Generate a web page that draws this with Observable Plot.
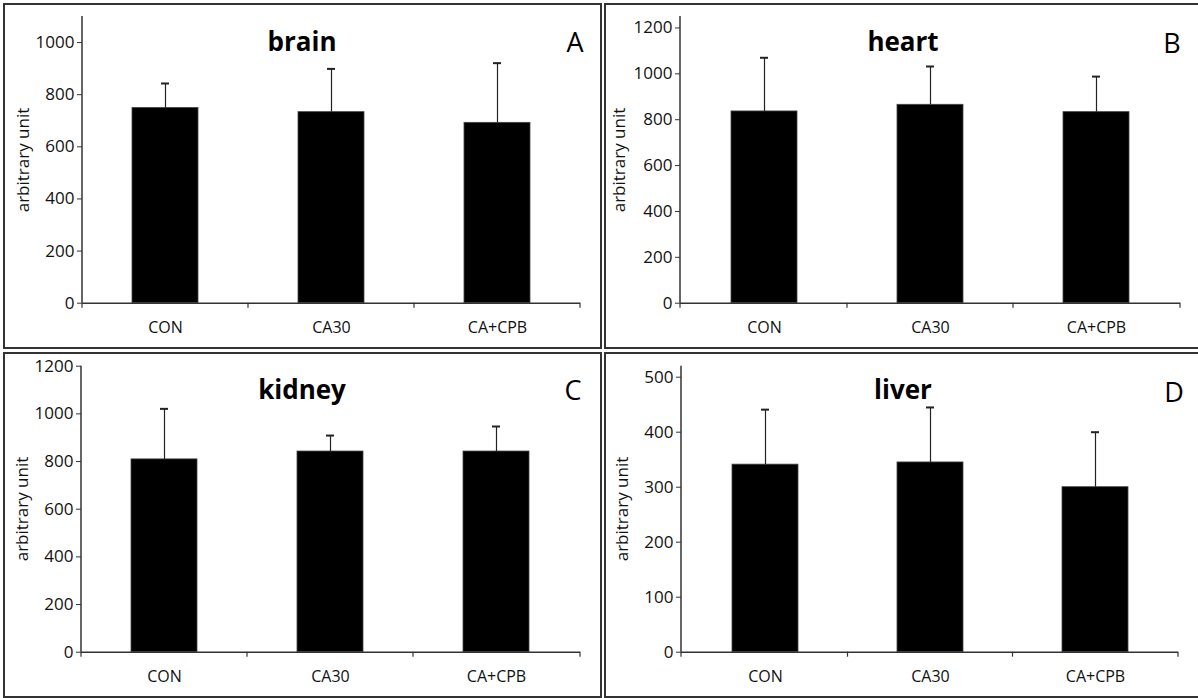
<!DOCTYPE html>
<html>
<head>
<meta charset="utf-8">
<script src="https://cdn.jsdelivr.net/npm/d3@7"></script>
<script src="https://cdn.jsdelivr.net/npm/@observablehq/plot@0.6"></script>
<style>
  html, body { margin: 0; padding: 0; background: #fff; }
  #chart { position: relative; width: 1198px; height: 698px; overflow: hidden; background: #fff; font-family: 'Open Sans', sans-serif; }
  .box { position: absolute; box-sizing: border-box; border: 2px solid #333; }
</style>
</head>
<body>
<div id="chart"></div>
<script>
// ---- data ----
const categories = ["CON", "CA30", "CA+CPB"];

const brainMean  = [749, 733, 692];
const brainSD    = [94, 166, 229];
const heartMean  = [836, 865, 833];
const heartSD    = [234, 167, 155];
const kidneyMean = [809, 842, 842];
const kidneySD   = [212, 67, 105];
const liverMean  = [341, 345, 300];
const liverSD    = [100, 100, 100];

const brainTicks  = [0, 200, 400, 600, 800, 1000];
const heartTicks  = [0, 200, 400, 600, 800, 1000, 1200];
const kidneyTicks = [0, 200, 400, 600, 800, 1000, 1200];
const liverTicks  = [0, 100, 200, 300, 400, 500];

const panelTitles  = ["brain", "heart", "kidney", "liver"];
const panelLetters = ["A", "B", "C", "D"];
const yLabel = "arbitrary unit";

// ---- layout ----
const chart = document.getElementById("chart");

const panels = [
  {mean: brainMean,  sd: brainSD,  ticks: brainTicks,  ymax: 1100,
   box: [3, 3, 599, 346],   org: [3, 3],
   m: {l: 79, r: 18, t: 13, b: 46.3},
   title: [302, 51], letter: [575, 52], ylab: [23, 160]},
  {mean: heartMean,  sd: heartSD,  ticks: heartTicks,  ymax: 1250,
   box: [604, 3, 600, 346], org: [604, 3],
   m: {l: 76, r: 19, t: 13, b: 46.3},
   title: [903, 51], letter: [1172, 53], ylab: [619, 160]},
  {mean: kidneyMean, sd: kidneySD, ticks: kidneyTicks, ymax: 1200,
   box: [3, 352, 599, 346], org: [3, 352],
   m: {l: 78, r: 18, t: 13.7, b: 46.3},
   title: [302, 399], letter: [573, 400], ylab: [22, 509]},
  {mean: liverMean,  sd: liverSD,  ticks: liverTicks,  ymax: 520,
   box: [604, 352, 600, 346], org: [604, 352],
   m: {l: 77, r: 21, t: 13.7, b: 46.3},
   title: [903, 399], letter: [1174, 402], ylab: [622, 509]}
];

panels.forEach((p, k) => {
  const box = document.createElement("div");
  box.className = "box";
  box.style.left = p.box[0] + "px";
  box.style.top = p.box[1] + "px";
  box.style.width = p.box[2] + "px";
  box.style.height = p.box[3] + "px";
  chart.appendChild(box);

  const data = categories.map((c, i) => ({cat: c, mean: p.mean[i], upper: p.mean[i] + p.sd[i]}));

  const plot = Plot.plot({
    width: 595,
    height: 346,
    marginLeft: p.m.l, marginRight: p.m.r, marginTop: p.m.t, marginBottom: p.m.b,
    style: {fontFamily: "'Open Sans', sans-serif", fontSize: "17px", color: "#111", background: "transparent", overflow: "visible"},
    x: {domain: categories, paddingInner: 0.6, paddingOuter: 0.3, label: null},
    y: {domain: [0, p.ymax], label: null},
    marks: [
      Plot.barY(data, {x: "cat", y: "mean", fill: "#000", stroke: "#444", strokeWidth: 0.8}),
      Plot.ruleX(data, {x: "cat", y1: "mean", y2: "upper", stroke: "#222", strokeWidth: 1.2}),
      Plot.tickY(data, {x: "cat", y: "upper", stroke: "#222", strokeWidth: 2, insetLeft: 29, insetRight: 29}),
      Plot.ruleY([0], {stroke: "#333", strokeWidth: 1.5}),
      Plot.axisY({ticks: p.ticks, tickSize: 5, tickPadding: 3, label: null, stroke: "#333", fontSize: 17, tickFormat: d => String(d)}),
      Plot.axisX({tickSize: 0, tickPadding: 18, label: null, stroke: "#333", fontSize: 16})
    ]
  });
  plot.style.position = "absolute";
  plot.style.left = p.org[0] + "px";
  plot.style.top = p.org[1] + "px";
  chart.appendChild(plot);

  // y-axis line and category-boundary ticks, from the plot's own scales
  const xs = plot.scale("x");
  const ys = plot.scale("y");
  const centers = categories.map(c => xs.apply(c) + xs.bandwidth / 2);
  const bounds = [xs.range[0]];
  for (let i = 0; i < centers.length - 1; i++) bounds.push((centers[i] + centers[i + 1]) / 2);
  bounds.push(xs.range[1]);
  const y0 = ys.apply(0);
  const g = d3.select(plot).append("g").attr("stroke", "#333");
  g.append("line")
    .attr("x1", xs.range[0]).attr("x2", xs.range[0])
    .attr("y1", ys.range[0]).attr("y2", ys.range[1])
    .attr("stroke-width", 1.5);
  g.selectAll("line.bt").data(bounds).join("line")
    .attr("class", "bt")
    .attr("x1", d => d).attr("x2", d => d)
    .attr("y1", y0).attr("y2", y0 + 5)
    .attr("stroke-width", 1.2);
});

// ---- text overlay: titles, panel letters, y labels ----
const overlay = d3.create("svg")
  .attr("width", 1198).attr("height", 698)
  .style("position", "absolute").style("left", "0px").style("top", "0px")
  .style("pointer-events", "none")
  .style("font-family", "'Open Sans', sans-serif");

panels.forEach((p, k) => {
  overlay.append("text")
    .attr("x", p.title[0]).attr("y", p.title[1])
    .attr("text-anchor", "middle")
    .attr("font-size", 26).attr("font-weight", "bold").attr("fill", "#000")
    .text(panelTitles[k]);
  overlay.append("text")
    .attr("x", p.letter[0]).attr("y", p.letter[1])
    .attr("text-anchor", "middle")
    .attr("font-size", 27).attr("fill", "#000")
    .text(panelLetters[k]);
  overlay.append("text")
    .attr("transform", `translate(${p.ylab[0]},${p.ylab[1]}) rotate(-90)`)
    .attr("text-anchor", "middle").attr("dy", "0.35em")
    .attr("font-size", 17).attr("fill", "#111")
    .text(yLabel);
});
chart.appendChild(overlay.node());
</script>
</body>
</html>
